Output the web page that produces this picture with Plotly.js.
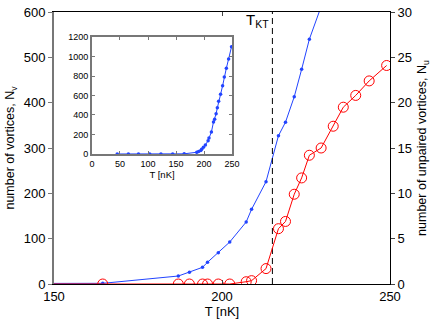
<!DOCTYPE html>
<html>
<head>
<meta charset="utf-8">
<script src="https://cdn.plot.ly/plotly-3.0.1.min.js"></script>
<style>html,body{margin:0;padding:0;background:#fff;}#chart{width:436px;height:321px;}</style>
</head>
<body>
<div id="chart"></div>
<script>
// Temperatures (nK) of the simulated samples
var temperatures = [45, 65, 83, 103, 123, 144, 164.5, 187, 190.3, 194.2, 195.7, 198.9, 202.3, 207.2, 208.8, 213.1, 216.8, 218.9, 221.5, 223.7, 226.0, 229.5, 233.1, 236.1, 239.8, 243.8, 249.0];
// Total number of vortices N_v
var vortices = [0, 0, 0, 0, 0, 0, 1.5, 17.6, 25.7, 36.8, 48, 69, 92.6, 136.8, 164.7, 225.7, 327, 357, 413, 473.5, 540, 612, 700, 790, 880, 975, 1100];
// Number of unpaired vortices N_u
var unpaired = [0, 0, 0, 0, 0, 0, 0, 0, 0, 0, 0, 0, 0, 0.25, 0.37, 1.7, 6.1, 6.9, 9.9, 11.7, 14.2, 15.0, 17.4, 19.5, 20.8, 22.4, 24.1];
// BKT transition temperature (nK)
var T_KT = 215;
var mainTicksX = [150, 200, 250];
var insetTicksX = [0, 50, 100, 150, 200, 250];
var insetTicksY = [0, 200, 400, 600, 800, 1000, 1200];

var BLUE = '#2244ff', RED = '#ff0000';
var FONT = 'Liberation Sans, Arial, sans-serif';

var traces = [
  {x: temperatures, y: vortices, xaxis: 'x', yaxis: 'y', mode: 'lines+markers',
   line: {color: BLUE, width: 1}, marker: {color: BLUE, size: 3.5, symbol: 'circle'}},
  {x: temperatures, y: unpaired, xaxis: 'x', yaxis: 'y2', mode: 'lines+markers',
   line: {color: RED, width: 1}, marker: {color: RED, size: 10, symbol: 'circle-open', line: {width: 1, color: RED}}},
  {x: [T_KT, T_KT], y: [0, 600], xaxis: 'x', yaxis: 'y', mode: 'lines',
   line: {color: '#000', width: 1, dash: '6px,4px'}},
  {x: temperatures, y: vortices, xaxis: 'x3', yaxis: 'y3', mode: 'lines+markers',
   line: {color: BLUE, width: 1}, marker: {color: BLUE, size: 3.5, symbol: 'circle'}}
];

var layout = {
  width: 436, height: 321,
  margin: {l: 54, r: 46, t: 12, b: 37, pad: 0},
  paper_bgcolor: '#fff', plot_bgcolor: 'rgba(0,0,0,0)',
  showlegend: false,
  font: {family: FONT, color: '#000', size: 13},
  xaxis: {domain: [0, 1], range: [150, 250], tickvals: mainTicksX, ticks: 'inside', ticklen: 4,
    showgrid: false, zeroline: false, showline: true, linecolor: '#000', linewidth: 1, mirror: 'ticks',
    tickfont: {size: 13}, title: {text: 'T [nK]', font: {size: 13}, standoff: 2}},
  yaxis: {domain: [0, 1], range: [0, 600], dtick: 100, ticks: 'outside', ticklen: 4, tickcolor: '#777',
    showgrid: false, zeroline: false, showline: true, linecolor: '#777', linewidth: 2,
    tickfont: {size: 13}, title: {text: 'number of vortices, N<sub>v</sub>', font: {size: 12.5}, standoff: 6}},
  yaxis2: {overlaying: 'y', side: 'right', anchor: 'x', range: [0, 30], dtick: 5, ticks: 'outside', ticklen: 4,
    showgrid: false, zeroline: false, showline: true, linecolor: '#000', linewidth: 1,
    tickfont: {size: 13}, title: {text: 'number of unpaired vortices, N<sub>u</sub>', font: {size: 12.5}, standoff: 6}},
  xaxis3: {domain: [0.113, 0.530], anchor: 'y3', range: [0, 250], tickvals: insetTicksX, ticks: 'inside', ticklen: 3,
    tickcolor: '#777', showgrid: false, zeroline: false, showline: true, linecolor: '#777', linewidth: 2, mirror: 'ticks',
    tickfont: {size: 9}, title: {text: 'T [nK]', font: {size: 9.5}, standoff: 2}},
  yaxis3: {domain: [0.478, 0.908], anchor: 'x3', range: [0, 1200], tickvals: insetTicksY, ticks: 'inside', ticklen: 3,
    tickcolor: '#777', showgrid: false, zeroline: false, showline: true, linecolor: '#777', linewidth: 2, mirror: 'ticks',
    tickfont: {size: 9}},
  annotations: [
    {x: T_KT, y: 600, xref: 'x', yref: 'y', text: 'T<sub>KT</sub>', showarrow: false,
     xanchor: 'right', yanchor: 'top', xshift: -1, yshift: 3, font: {size: 15}}
  ]
};

Plotly.newPlot('chart', traces, layout, {displayModeBar: false, staticPlot: true});
</script>
</body>
</html>
